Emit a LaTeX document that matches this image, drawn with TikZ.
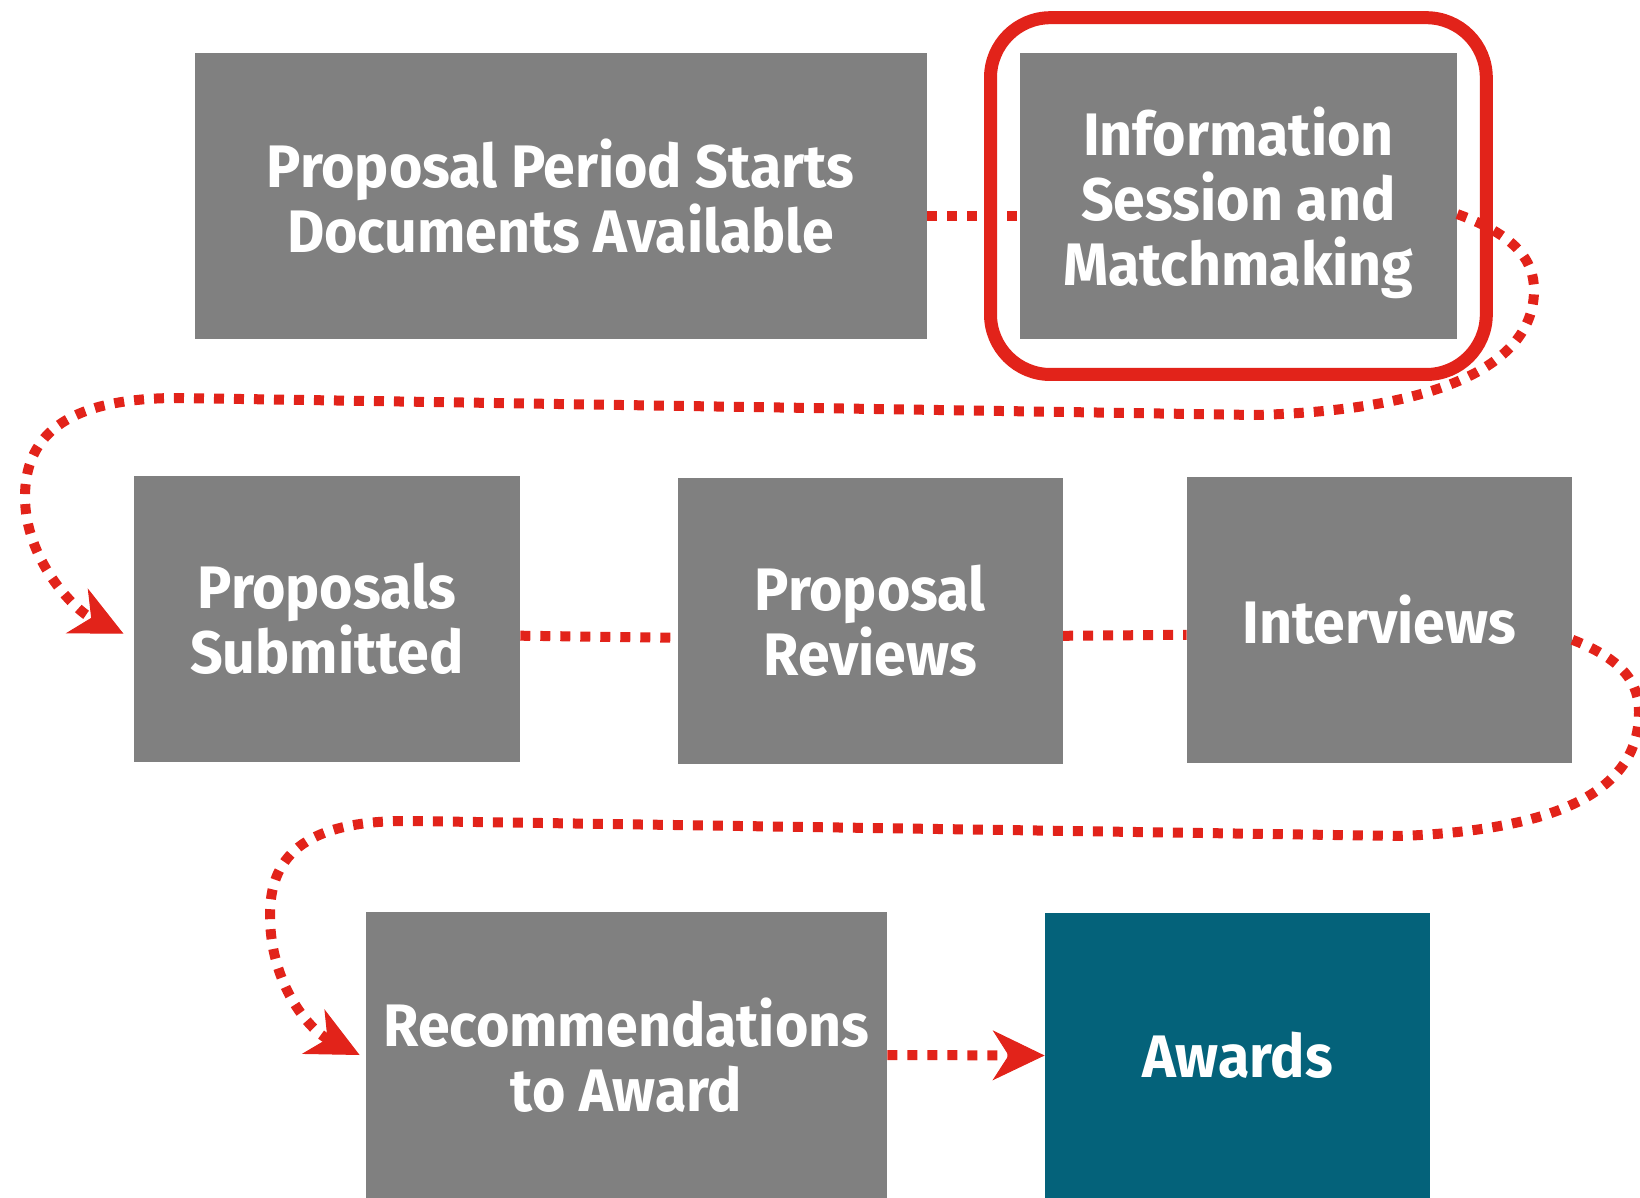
\documentclass[tikz,border=0pt]{standalone}
\usepackage{fontspec}
\setmainfont[FakeStretch=0.955]{Fira Sans}
\usetikzlibrary{arrows.meta,fit}

\definecolor{stagegray}{HTML}{808080}
\definecolor{awardteal}{HTML}{04627A}
\definecolor{flowred}{HTML}{E2231A}

\begin{document}
\begin{tikzpicture}[x=0.5pt,y=-0.5pt,
    stage/.style={rectangle,fill=stagegray,text=white,align=center,inner sep=0pt,
        minimum height=143pt,font=\bfseries\fontsize{30}{32.5}\selectfont},
    flow/.style={draw=flowred,line width=5pt,dash pattern=on 5pt off 5pt},
    flowtip/.style={-{Stealth[length=26pt,width=25pt,inset=8pt,line width=0.5pt]}}]
    \useasboundingbox (0,0) rectangle (1640,1198);

    \node[stage, minimum width=366pt] at (560.6, 196.1) (prop) {Proposal Period Starts\\Documents Available};
    \node[stage, minimum width=218.5pt, text depth=0pt] at (1238.4, 196.1) (info) {Information\\Session and\\Matchmaking};
    \node[stage, minimum width=193pt] at (326.9, 618.7) (subm) {Proposals\\Submitted};
    \node[stage, minimum width=192.5pt] at (870.2, 620.8) (rev) {Proposal\\Reviews};
    \node[stage, minimum width=192.5pt] at (1379.5, 619.8) (intv) {Interviews};
    \node[stage, minimum width=260.5pt] at (626.5, 1055) (recm) {Recommendations\\to Award};
    \node[stage, fill=awardteal, minimum width=192.5pt] at (1237.5, 1055.5) (award) {Awards};

    % highlight round the info session
    \node[fit=(info), draw=flowred, line width=6.5pt, rounded corners=30pt,
        inner xsep=14.5pt, inner ysep=17.5pt] (mark) {};

    \draw[flow] ([yshift=-10pt]prop.east) -- ([yshift=-10pt]info.west);
    \draw[flow] ([yshift=-8.5pt]subm.east) -- ([yshift=-8.5pt]rev.west);
    \draw[flow] ([yshift=-7.5pt]rev.east) -- ([yshift=-7.5pt]intv.west);
    \draw[flow, flowtip] (recm.east) -- (award.west);

    \draw[flow, flowtip] ([yshift=-9pt]info.east)
        .. controls (1515,235) and (1534,260) .. (1534,290)
        .. controls (1534,360) and (1450,410) .. (1255,415)
        -- (178,398)
        .. controls (60,398) and (25,440) .. (25,497)
        .. controls (25,560) and (75,610) .. ([xshift=-5pt,yshift=-7.5pt]subm.west);
    \draw[flow, flowtip] ([yshift=-10pt]intv.east)
        .. controls (1625,660) and (1639,685) .. (1639,712)
        .. controls (1639,790) and (1560,830) .. (1400,836)
        -- (410,821)
        .. controls (300,820) and (270,860) .. (270,915)
        .. controls (270,985) and (310,1030) .. ([xshift=-3pt]recm.west);
\end{tikzpicture}
\end{document}
